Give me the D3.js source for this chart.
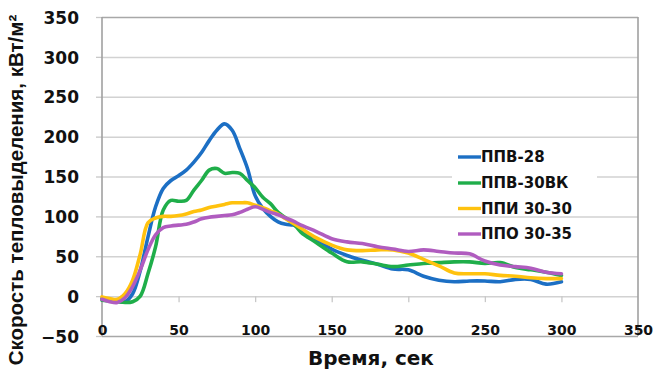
<!DOCTYPE html>
<html>
<head>
<meta charset="utf-8">
<script src="https://cdn.jsdelivr.net/npm/d3@7"></script>
<style>
  html, body { margin: 0; padding: 0; background: #fff; }
  svg { display: block; }
</style>
</head>
<body>
<svg id="chart" width="654" height="372"></svg>
<script>
// ---- data ----
const times = [0, 5, 10, 15, 20, 25, 30, 35, 40, 45, 50, 55, 60, 65, 70, 75, 80, 85, 90, 95,
  100, 105, 110, 115, 120, 125, 130, 140, 150, 160, 170, 180, 190, 200, 210, 220, 230, 240,
  250, 260, 270, 280, 290, 300];

const ppv28 = [-3, -5, -6, -7, 3, 32, 74, 112, 135, 145, 151, 158, 168, 180, 195, 208, 216, 208, 185, 160,
  126, 110, 100, 93, 90, 89, 84, 71, 59, 51, 45, 40, 34, 33, 25, 20, 18, 19,
  19, 18, 21, 21, 15, 18];

const ppv30vk = [-5, -6, -7, -8, -7, 0, 28, 62, 108, 120, 119, 120, 133, 145, 158, 160, 154, 155, 154, 145,
  136, 124, 116, 105, 98, 91, 80, 67, 54, 43, 43, 40, 37, 39, 41, 42, 43, 43,
  41, 42, 36, 33, 30, 26];

const ppi3030 = [-1, -3, -4, 3, 20, 53, 92, 98, 100, 100, 101, 103, 106, 108, 111, 113, 115, 117, 117, 117,
  114, 111, 107, 103, 97, 91, 85, 73, 64, 58, 57, 58, 58, 54, 46, 38, 29, 28,
  28, 26, 25, 23, 22, 22];

const ppo3035 = [-4, -7, -8, -2, 12, 33, 58, 77, 86, 88, 89, 90, 93, 97, 99, 100, 101, 102, 105, 109,
  112, 109, 105, 102, 98, 94, 89, 81, 72, 68, 66, 62, 59, 56, 58, 56, 54, 53,
  44, 39, 37, 35, 30, 28];

const seriesNames = ['ППВ-28', 'ППВ-30ВК', 'ППИ 30-30', 'ППО 30-35'];
const seriesColors = ['#1c6fc4', '#1fae4a', '#ffc20e', '#b05cbf'];
const xTicks = [0, 50, 100, 150, 200, 250, 300, 350];
const yTicks = [-50, 0, 50, 100, 150, 200, 250, 300, 350];

const xTitle = 'Время, сек';
const yTitle = 'Скорость тепловыделения, кВт/м²';

// ---- layout ----
const svg = d3.select('#chart');
const plotLeft = 102, plotRight = 638, plotTop = 17, plotBottom = 336;

const x = d3.scaleLinear().domain([0, 350]).range([plotLeft, plotRight]);
const y = d3.scaleLinear().domain([-50, 350]).range([plotBottom, plotTop]);

const tickFont = 'DejaVu Sans, sans-serif';

// gridlines + left ticks
const yAxis = svg.append('g')
  .attr('transform', `translate(${plotLeft},0)`)
  .call(d3.axisLeft(y).tickValues(yTicks).tickSize(6).tickPadding(17).tickFormat(d3.format('d')));
yAxis.select('.domain').remove();
yAxis.selectAll('.tick line').attr('stroke', '#c8c8c8').attr('stroke-width', 1.3);
yAxis.selectAll('.tick').append('line')
  .attr('x1', 0).attr('x2', plotRight - plotLeft)
  .attr('stroke', d => (d === 350 || d === -50) ? '#a8a8a8' : '#d2d2d2')
  .attr('stroke-width', 1.5);
yAxis.selectAll('.tick text')
  .attr('fill', '#111')
  .style('font-family', tickFont)
  .style('font-weight', 'bold')
  .style('font-size', '17px')
  .attr('dy', '0.36em');

// frame: left axis, right border
svg.append('line').attr('x1', plotLeft).attr('x2', plotLeft).attr('y1', plotTop).attr('y2', plotBottom)
  .attr('stroke', '#a0a0a0').attr('stroke-width', 1.6);
svg.append('line').attr('x1', plotRight).attr('x2', plotRight).attr('y1', plotTop).attr('y2', plotBottom)
  .attr('stroke', '#a0a0a0').attr('stroke-width', 1.6);

// x ticks hang down from the zero line
const xAxis = svg.append('g')
  .attr('transform', `translate(0,${y(0)})`)
  .call(d3.axisBottom(x).tickValues(xTicks.filter(d => d > 0 && d < 350)).tickSize(6).tickFormat(''));
xAxis.select('.domain').remove();
xAxis.selectAll('.tick line').attr('stroke', '#c8c8c8').attr('stroke-width', 1.3);

// x tick labels sit on the bottom line
const xLabels = svg.append('g')
  .attr('transform', `translate(0,${plotBottom})`)
  .call(d3.axisBottom(x).tickValues(xTicks).tickSize(0).tickPadding(0).tickFormat(d3.format('d')));
xLabels.select('.domain').remove();
xLabels.selectAll('.tick text')
  .attr('y', -1)
  .attr('dy', 0)
  .attr('fill', '#111')
  .style('font-family', tickFont)
  .style('font-weight', 'bold')
  .style('font-size', '14px');

// ---- lines ----
const allSeries = [ppv28, ppv30vk, ppi3030, ppo3035];
const line = d3.line()
  .x((d, i) => x(times[i]))
  .y(d => y(d))
  .curve(d3.curveCatmullRom.alpha(0.5));

svg.append('g').selectAll('path')
  .data(allSeries)
  .enter()
  .append('path')
  .attr('d', d => line(d))
  .attr('fill', 'none')
  .attr('stroke', (d, i) => seriesColors[i])
  .attr('stroke-width', 3.6)
  .attr('stroke-linejoin', 'round')
  .attr('stroke-linecap', 'round');

// ---- legend ----
const legend = svg.append('g');
legend.append('rect').attr('x', 452).attr('y', 168).attr('width', 145).attr('height', 28).attr('fill', '#fff');

const rowY = [157, 183, 208.5, 234];
const rows = legend.selectAll('g.row')
  .data(seriesNames)
  .enter()
  .append('g')
  .attr('class', 'row')
  .attr('transform', (d, i) => `translate(0,${rowY[i]})`);
rows.append('line')
  .attr('x1', 458).attr('x2', 481)
  .attr('stroke', (d, i) => seriesColors[i])
  .attr('stroke-width', 3.4);
rows.append('text')
  .attr('x', 481)
  .attr('dy', '0.36em')
  .attr('fill', '#111')
  .style('font-family', tickFont)
  .style('font-weight', 'bold')
  .style('font-size', '15px')
  .text(d => d);

// ---- titles ----
svg.append('text')
  .attr('x', (plotLeft + plotRight) / 2 + 1)
  .attr('y', 365)
  .attr('text-anchor', 'middle')
  .attr('fill', '#111')
  .style('font-family', tickFont)
  .style('font-weight', 'bold')
  .style('font-size', '20px')
  .text(xTitle);

svg.append('text')
  .attr('transform', 'translate(23,190) rotate(-90)')
  .attr('text-anchor', 'middle')
  .attr('fill', '#111')
  .style('font-family', 'Liberation Sans, Arial, sans-serif')
  .style('font-weight', 'bold')
  .style('font-size', '20.5px')
  .text(yTitle);
</script>
</body>
</html>
